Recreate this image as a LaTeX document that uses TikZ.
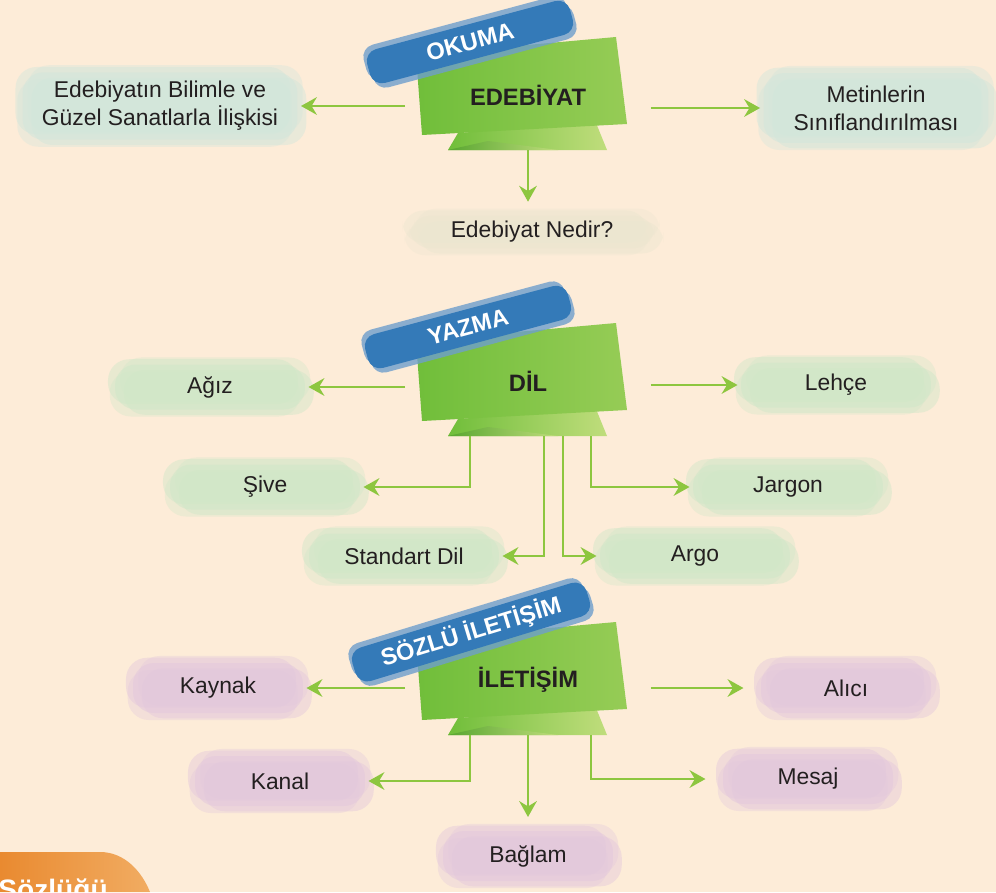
\documentclass[tikz,border=0pt]{standalone}
\usepackage{fontspec}
\setmainfont{Liberation Sans}
\usetikzlibrary{arrows.meta}

\definecolor{paper}{RGB}{253,236,216}
\definecolor{arrowgreen}{RGB}{141,198,63}
\definecolor{bandleft}{RGB}{112,190,58}
\definecolor{bandmid}{RGB}{178,212,52}
\definecolor{bandright}{RGB}{150,204,86}
\definecolor{foldlight}{RGB}{192,221,124}
\definecolor{folddark}{RGB}{88,166,48}
\definecolor{tagblue}{RGB}{52,122,184}
\definecolor{taglight}{RGB}{110,158,204}
\definecolor{washblue}{RGB}{210,230,219}
\definecolor{washmint}{RGB}{208,231,200}
\definecolor{washsand}{RGB}{236,230,208}
\definecolor{washlilac}{RGB}{227,200,220}
\definecolor{tableft}{RGB}{233,138,48}
\definecolor{tabright}{RGB}{241,172,98}
\definecolor{ink}{RGB}{35,31,32}

\begin{document}
\begin{tikzpicture}[x=0.02cm, y=-0.02cm,
   arr/.style={draw=arrowgreen, line width=1.6pt, -{Stealth[length=9pt,width=10pt,inset=3pt]}},
   wash/.style={fill=#1, fill opacity=.55, text opacity=1, text=ink, rounded corners=12pt,
      align=center, inner sep=2pt, outer sep=2pt, minimum height=0.9cm,
      font=\fontsize{13}{16}\selectfont,
      preaction={fill=#1, fill opacity=.45, transform canvas={shift={(5pt,-3pt)}}},
      preaction={fill=#1, fill opacity=.45, transform canvas={shift={(-4pt,3pt)}}},
      preaction={fill=#1, fill opacity=.35, transform canvas={shift={(-3pt,-4pt)}}},
      preaction={fill=#1, fill opacity=.35, transform canvas={shift={(3pt,4pt)}}}},
   tag/.style={fill=tagblue, text=white, font=\bfseries\fontsize{13.5}{16}\selectfont,
      rounded corners=7pt, minimum height=0.7cm, inner sep=1pt,
      preaction={fill=taglight, fill opacity=.8, transform canvas={shift={(-2pt,2.5pt)}}},
      preaction={fill=taglight, fill opacity=.8, transform canvas={shift={(2pt,-2.5pt)}}}},
   headline/.style={text=ink, font=\bfseries\fontsize{13.5}{16}\selectfont,
      minimum width=4.9cm, minimum height=2.2cm, inner sep=0pt}]
   \useasboundingbox (0,0) rectangle (996,892);
   \clip (0,0) rectangle (996,892);
   \fill[paper] (0,0) rectangle (996,892);

   \foreach \y in {95,381,680} {
     \begin{scope}[shift={(528,\y)}]
      \shade[left color=bandleft, right color=foldlight] (-80,55) -- (79,55) -- (68,28) -- (-70,38) -- cycle;
      \shade[left color=folddark, right color=foldlight] (-80,55) -- (-40,46) -- (30,55) -- cycle;
      \shade[left color=bandleft, middle color=bandmid, right color=bandright]
         (-112,-40) -- (88,-58) -- (99,29) -- (-106,40) -- cycle;
     \end{scope}
   }

   \begin{scope}[every node/.style={headline}]
    \node (edebiyat) at (528,95) {EDEBİYAT};
    \node (dil) at (528,381) {DİL};
    \node (iletisim) at (528,680) {İLETİŞİM};
   \end{scope}

   \begin{scope}[every node/.style={tag}]
    \node[rotate=15, minimum width=4.2cm] (okuma) at (470,42) {OKUMA};
    \node[rotate=15, minimum width=4.2cm] (yazma) at (468,327) {YAZMA};
    \node[rotate=17, minimum width=4.9cm] (sozlu) at (471,632) {SÖZLÜ İLETİŞİM};
   \end{scope}

   \begin{scope}[every node/.style={wash=washblue}]
    \node[minimum width=5.5cm, minimum height=1.35cm] (bilim) at (160,106) {Edebiyatın Bilimle ve\\Güzel Sanatlarla İlişkisi};
    \node[minimum width=4.5cm, minimum height=1.4cm] (metin) at (876,108) {Metinlerin\\Sınıflandırılması};
   \end{scope}
   \node[wash=washsand, minimum width=4.9cm, minimum height=0.65cm] (nedir) at (532,232) {Edebiyat Nedir?};

   \begin{scope}[every node/.style={wash=washmint, minimum width=3.8cm}]
    \node (agiz) at (210,387) {Ağız};
    \node (lehce) at (836,385) {Lehçe};
    \node (sive) at (265,487) {Şive};
    \node (jargon) at (788,487) {Jargon};
    \node (standart) at (404,556) {Standart Dil};
    \node (argo) at (695,556) {Argo};
   \end{scope}

   \begin{scope}[every node/.style={wash=washlilac, minimum width=3.4cm, minimum height=1cm}]
    \node (kaynak) at (218,688) {Kaynak};
    \node (alici) at (846,688) {Alıcı};
    \node (kanal) at (280,781) {Kanal};
    \node (mesaj) at (808,779) {Mesaj};
    \node (baglam) at (528,856) {Bağlam};
   \end{scope}

   \draw[arr] (edebiyat.west |- bilim) -- (bilim);
   \draw[arr] (edebiyat.east |- metin) -- (metin);
   \draw[arr, shorten >=6pt] (edebiyat.south) -- (edebiyat.south |- nedir.north);

   \draw[arr] (dil.west |- agiz) -- (agiz);
   \draw[arr] (dil.east |- lehce) -- (lehce);
   \draw[arr] ([shift={(-58,0)}]dil.south) |- (sive);
   \draw[arr] ([shift={(16,0)}]dil.south) |- (standart);
   \draw[arr] ([shift={(35,0)}]dil.south) |- (argo);
   \draw[arr] ([shift={(63,0)}]dil.south) |- (jargon);

   \draw[arr] (iletisim.west |- kaynak) -- (kaynak);
   \draw[arr] (iletisim.east |- alici) -- ([xshift=-8pt]alici.west);
   \draw[arr] ([shift={(-58,0)}]iletisim.south) |- (kanal);
   \draw[arr, shorten >=6pt] (iletisim.south) -- (iletisim.south |- baglam.north);
   \draw[arr] ([shift={(63,0)}]iletisim.south) |- ([xshift=-8pt]mesaj.west);

   \shade[left color=tableft, right color=tabright] (0,852) -- (100,852) .. controls (125,852) and (142,872) .. (150,892) -- (0,892) -- cycle;
   \node[anchor=base west, text=white, font=\bfseries\fontsize{16}{19}\selectfont, inner sep=0pt] (sozluk) at (-2,899) {Sözlüğü};
\end{tikzpicture}
\end{document}
